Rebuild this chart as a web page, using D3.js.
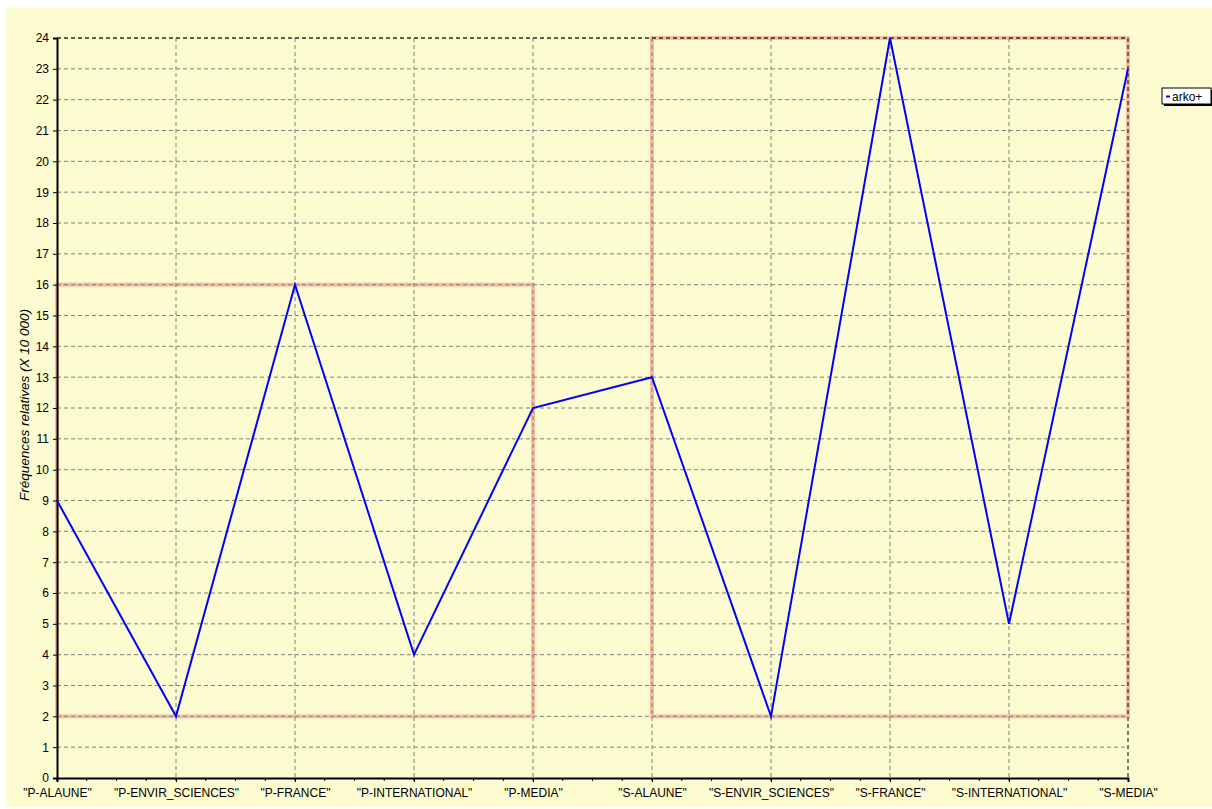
<!DOCTYPE html>
<html>
<head>
<meta charset="utf-8">
<script src="https://cdn.jsdelivr.net/npm/d3@7"></script>
<style>
  body { margin: 0; background: #fff; }
  text { font-family: "Liberation Sans", Arial, sans-serif; }
</style>
</head>
<body>
<div id="chart"></div>
<script>
// data
const categories = ['"P-ALAUNE"', '"P-ENVIR_SCIENCES"', '"P-FRANCE"', '"P-INTERNATIONAL"', '"P-MEDIA"',
  '"S-ALAUNE"', '"S-ENVIR_SCIENCES"', '"S-FRANCE"', '"S-INTERNATIONAL"', '"S-MEDIA"'];
const values = [9, 2, 16, 4, 12, 13, 2, 24, 5, 23];
const seriesName = "arko+";
const yTicks = d3.range(0, 25);
// highlighted groups: [first category, last category], [low value, high value]
const boxCats = [[0, 4], [5, 9]];
const boxVals = [[2, 16], [2, 24]];

const W = 1212, H = 809;
const margin = {top: 38, right: 84, bottom: 31, left: 57};
const width = W - margin.left - margin.right,
      height = H - margin.top - margin.bottom;

const root = d3.select("#chart").append("svg")
  .attr("width", W).attr("height", H);

// pale yellow panel
root.append("rect")
  .attr("x", 6).attr("y", 8).attr("width", W - 6).attr("height", H - 10)
  .attr("fill", "#fcfcd0");

const svg = root.append("g")
  .attr("transform", `translate(${margin.left},${margin.top})`);

const x = d3.scalePoint().domain(categories).range([0, width]);
const y = d3.scaleLinear().domain([0, 24]).range([height, 0]);

// red boxes (under the grid)
svg.selectAll(".box")
  .data(boxCats)
  .join("rect")
    .attr("x", (d) => x(categories[d[0]]))
    .attr("y", (d, i) => y(boxVals[i][1]))
    .attr("width", (d) => x(categories[d[1]]) - x(categories[d[0]]))
    .attr("height", (d, i) => y(boxVals[i][0]) - y(boxVals[i][1]))
    .attr("fill", "none")
    .attr("stroke", "#f9bca2")
    .attr("stroke-width", 4);

// grid
svg.append("g")
  .selectAll("line")
  .data(yTicks.slice(1))
  .join("line")
    .attr("x1", 0).attr("x2", width)
    .attr("y1", d => y(d)).attr("y2", d => y(d))
    .attr("stroke", "#808080").attr("stroke-dasharray", "4,3");
svg.append("g")
  .selectAll("line")
  .data(categories.slice(1, -1))
  .join("line")
    .attr("x1", d => x(d)).attr("x2", d => x(d))
    .attr("y1", 0).attr("y2", height)
    .attr("stroke", "#808080").attr("stroke-dasharray", "4,3");

// frame top / right
svg.append("path")
  .attr("d", `M0,0H${width}V${height}`)
  .attr("fill", "none")
  .attr("stroke", "#000").attr("stroke-dasharray", "4,3");

// X axis
const xAxis = svg.append("g")
  .attr("transform", `translate(0,${height})`)
  .call(d3.axisBottom(x).tickSize(4).tickPadding(6));
xAxis.select(".domain").attr("stroke-width", 2);
xAxis.selectAll("text").attr("font-size", 12).attr("fill", "#000")
  .attr("font-family", "Liberation Sans, Arial, sans-serif");
// minor ticks
const step = x.step() / 4;
xAxis.append("g")
  .selectAll("line")
  .data(d3.range(0, width, step))
  .join("line")
    .attr("x1", d => d).attr("x2", d => d)
    .attr("y1", 0).attr("y2", 3)
    .attr("stroke", "#000");

// Y axis
const yAxis = svg.append("g")
  .call(d3.axisLeft(y).tickValues(yTicks).tickSize(4).tickPadding(4).tickFormat(d3.format("d")));
yAxis.select(".domain").attr("stroke-width", 2);
yAxis.selectAll("text").attr("font-size", 12).attr("fill", "#000")
  .attr("font-family", "Liberation Sans, Arial, sans-serif");

// Y label
root.append("text")
  .attr("transform", "translate(29,405) rotate(-90)")
  .style("text-anchor", "middle")
  .attr("font-size", 13.5)
  .attr("font-style", "italic")
  .text("Fréquences relatives (X 10 000)");

// line
const line = d3.line()
  .x((d, i) => x(categories[i]))
  .y(d => y(d));
svg.append("path")
  .datum(values)
  .attr("d", line)
  .attr("fill", "none")
  .attr("stroke", "#0000ff")
  .attr("stroke-width", 2);

// legend
const lg = root.append("g").attr("transform", "translate(1162,88)");
lg.append("rect").attr("x", 2).attr("y", 2).attr("width", 52).attr("height", 16).attr("fill", "#000");
lg.append("rect").attr("x", 0).attr("y", 0).attr("width", 49).attr("height", 16)
  .attr("fill", "#fff").attr("stroke", "#000");
lg.append("line").attr("x1", 4).attr("x2", 8).attr("y1", 8.5).attr("y2", 8.5)
  .attr("stroke", "#0000ff").attr("stroke-width", 2);
lg.append("text").attr("x", 10).attr("y", 12.5).attr("font-size", 12).text(seriesName);
</script>
</body>
</html>
